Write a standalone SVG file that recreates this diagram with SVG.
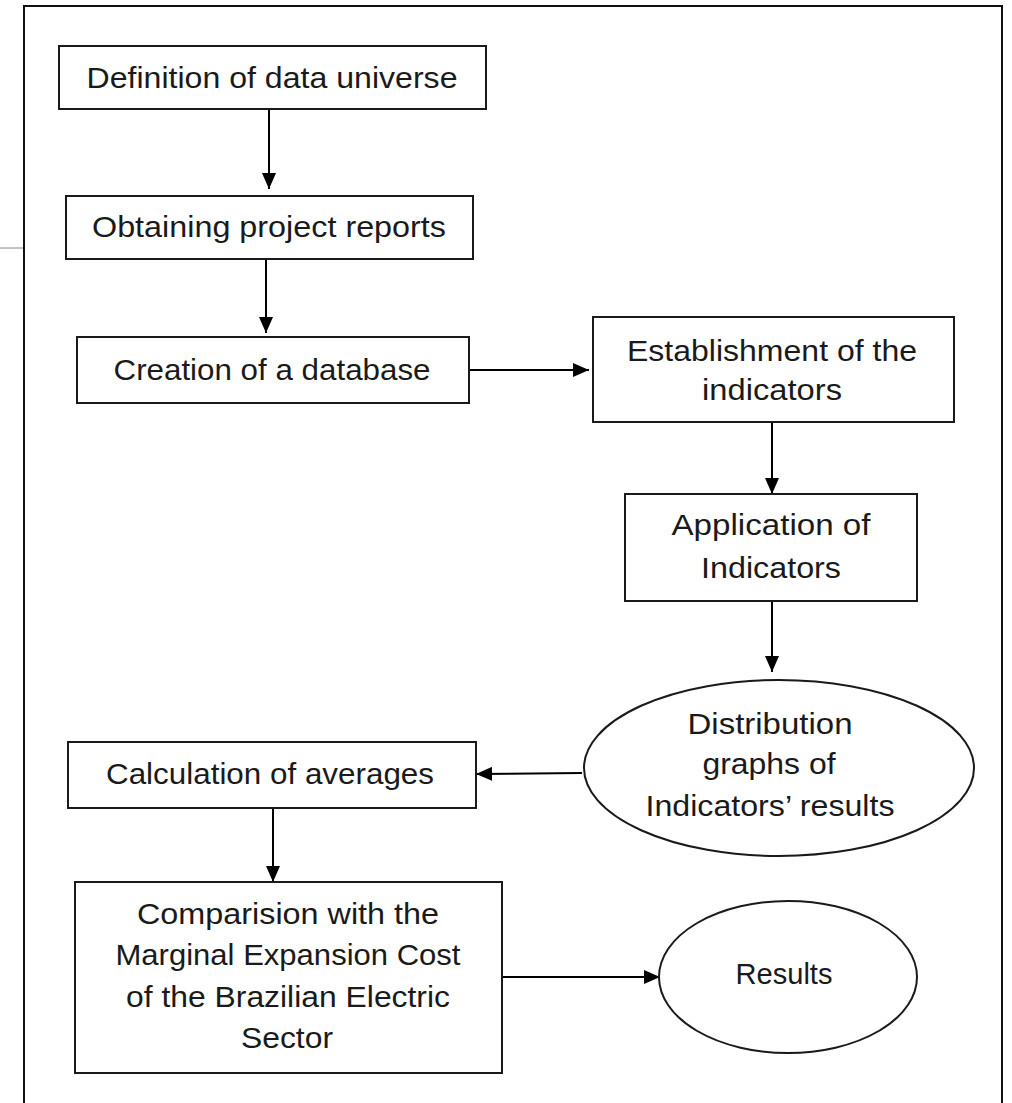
<svg xmlns="http://www.w3.org/2000/svg" width="1012" height="1103" viewBox="0 0 1012 1103">
<defs>
<marker id="ah" markerUnits="userSpaceOnUse" markerWidth="16" markerHeight="14" refX="16" refY="7" orient="auto">
<path d="M0,0 L16,7 L0,14 z" fill="#000"/>
</marker>
<style>
.box{fill:#fff;stroke:#1a1a1a;stroke-width:2}
.t{font-family:"Liberation Sans",Arial,sans-serif;font-size:30px;fill:#1a1a1a;text-anchor:middle}
.c{stroke:#000;stroke-width:2;fill:none;marker-end:url(#ah)}
</style>
</defs>
<rect width="1012" height="1103" fill="#fff"/>
<g id="frame">
<path d="M24,1103 L24,6 L1002,6 L1002,1103" fill="none" stroke="#111" stroke-width="2"/>
<line x1="0" y1="248" x2="23" y2="248" stroke="#888" stroke-width="1"/>
</g>
<g id="connectors">
<line class="c" x1="269" y1="109" x2="269" y2="189"/>
<line class="c" x1="266" y1="259" x2="266" y2="333"/>
<line class="c" x1="469" y1="370" x2="589" y2="370"/>
<line class="c" x1="772" y1="422" x2="772" y2="494"/>
<line class="c" x1="772" y1="601" x2="772" y2="672"/>
<line class="c" x1="582" y1="773" x2="476" y2="774" stroke="#333"/>
<line class="c" x1="273" y1="808" x2="273" y2="882"/>
<line class="c" x1="502" y1="977" x2="660" y2="977"/>
</g>
<g id="n1">
<rect class="box" x="59" y="46" width="427" height="63"/>
<text class="t" x="272" y="88" textLength="371" lengthAdjust="spacingAndGlyphs">Definition of data universe</text>
</g>
<g id="n2">
<rect class="box" x="66" y="196" width="407" height="63"/>
<text class="t" x="269" y="237" textLength="354" lengthAdjust="spacingAndGlyphs">Obtaining project reports</text>
</g>
<g id="n3">
<rect class="box" x="77" y="337" width="392" height="66"/>
<text class="t" x="272" y="380" textLength="317" lengthAdjust="spacingAndGlyphs">Creation of a database</text>
</g>
<g id="n4">
<rect class="box" x="593" y="317" width="361" height="105"/>
<text class="t" x="772" y="361" textLength="290" lengthAdjust="spacingAndGlyphs">Establishment of the</text>
<text class="t" x="772" y="400" textLength="140" lengthAdjust="spacingAndGlyphs">indicators</text>
</g>
<g id="n5">
<rect class="box" x="625" y="494" width="292" height="107"/>
<text class="t" x="771" y="535" textLength="199" lengthAdjust="spacingAndGlyphs">Application of</text>
<text class="t" x="771" y="578" textLength="140" lengthAdjust="spacingAndGlyphs">Indicators</text>
</g>
<g id="n6">
<ellipse class="box" cx="779" cy="768" rx="195" ry="88"/>
<text class="t" x="770" y="734" textLength="165" lengthAdjust="spacingAndGlyphs">Distribution</text>
<text class="t" x="769" y="774" textLength="133" lengthAdjust="spacingAndGlyphs">graphs of</text>
<text class="t" x="770" y="816" textLength="249" lengthAdjust="spacingAndGlyphs">Indicators’ results</text>
</g>
<g id="n7">
<rect class="box" x="68" y="742" width="408" height="66"/>
<text class="t" x="270" y="784" textLength="328" lengthAdjust="spacingAndGlyphs">Calculation of averages</text>
</g>
<g id="n8">
<rect class="box" x="75" y="882" width="427" height="191"/>
<text class="t" x="288" y="924" textLength="302" lengthAdjust="spacingAndGlyphs">Comparision with the</text>
<text class="t" x="288" y="965" textLength="345" lengthAdjust="spacingAndGlyphs">Marginal Expansion Cost</text>
<text class="t" x="288" y="1007" textLength="324" lengthAdjust="spacingAndGlyphs">of the Brazilian Electric</text>
<text class="t" x="287" y="1048" textLength="92" lengthAdjust="spacingAndGlyphs">Sector</text>
</g>
<g id="n9">
<ellipse class="box" cx="788" cy="977" rx="129" ry="76"/>
<text class="t" x="784" y="984" textLength="97" lengthAdjust="spacingAndGlyphs">Results</text>
</g>
</svg>
